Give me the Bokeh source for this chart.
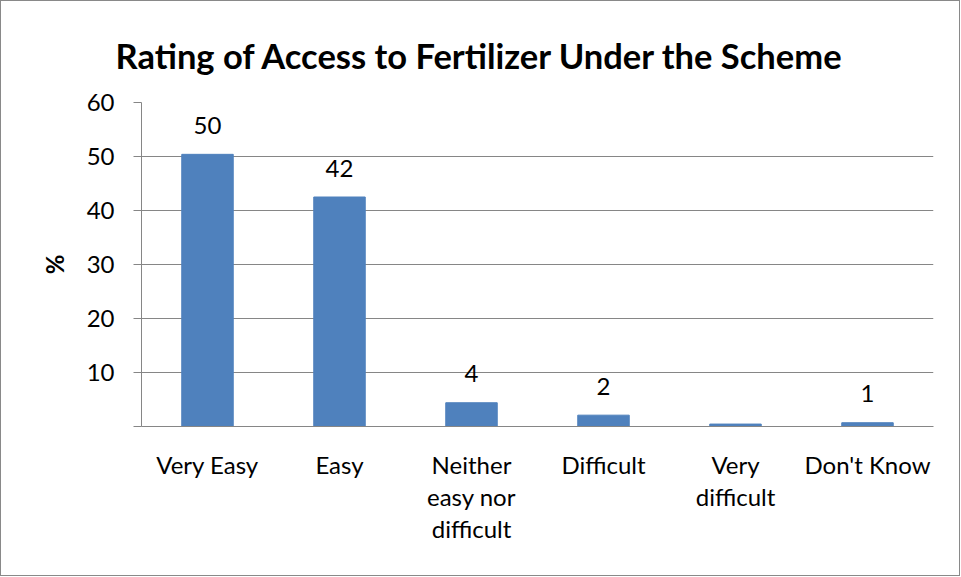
from bokeh.plotting import figure
from bokeh.models import ColumnDataSource, FixedTicker, Range1d, CategoricalAxis, FactorRange
from bokeh.embed import file_html
from bokeh.resources import INLINE
from bokeh.core.properties import value

categories = ["Very Easy", "Easy", "Neither easy nor difficult", "Difficult", "Very difficult", "Don't Know"]
display_names = ["Very Easy", "Easy", "Neither\neasy nor\ndifficult", "Difficult", "Very\ndifficult", "Don't Know"]
values = [50.4, 42.5, 4.4, 2.1, 0.45, 0.7]
value_labels = ["50", "42", "4", "2", "", "1"]
y_ticks = [0, 10, 20, 30, 40, 50, 60]
title_text = "Rating of Access to Fertilizer Under the Scheme"
y_label = "%"

FONT = "Lato"
GRAY = "#868686"
BLUE = "#4F81BD"

src = ColumnDataSource(dict(cat=categories, val=values, lab=value_labels))

p = figure(x_range=FactorRange(factors=categories), y_range=Range1d(0, 60), width=960, height=576,
           output_backend="svg", toolbar_location=None,
           min_border_left=140, min_border_right=28, min_border_top=101, min_border_bottom=151)

p.vbar(x="cat", top="val", width=0.39, source=src, fill_color=BLUE, line_color=BLUE)
p.text(x="cat", y="val", text="lab", source=src, text_align="center", text_baseline="alphabetic",
       y_offset=-29, text_font=value(FONT), text_font_size="24px", text_color="black")

# main x axis: line only
p.xaxis.axis_line_color = GRAY
p.xaxis.major_tick_line_color = None
p.xaxis.minor_tick_line_color = None
p.xaxis.major_tick_out = 0
p.xaxis.major_label_text_font_size = "0px"
p.xaxis.major_label_text_color = None
p.xaxis.major_label_standoff = 0

# multi-line category labels: one stacked categorical axis per text line,
# each on its own factor range holding that line of every category name
split_names = [name.split("\n") for name in display_names]
n_lines = max(len(s) for s in split_names)
for i in range(n_lines):
    line_factors = []
    for k, parts in enumerate(split_names):
        txt = parts[i] if i < len(parts) else " " * (k + 1)
        line_factors.append(txt)
    rname = f"line{i}"
    p.extra_x_ranges[rname] = FactorRange(factors=line_factors)
    ax = CategoricalAxis(x_range_name=rname)
    ax.axis_line_color = None
    ax.major_tick_line_color = None
    ax.minor_tick_line_color = None
    ax.major_tick_out = 0
    ax.major_label_text_font = FONT
    ax.major_label_text_font_size = "24px"
    ax.major_label_text_color = "black"
    ax.major_label_standoff = 23 if i == 0 else 0
    p.add_layout(ax, "below")

p.title.text = title_text
p.title.align = "left"
p.title.offset = -26
p.title.text_font = FONT
p.title.text_font_size = "34.5px"
p.title.text_font_style = "bold"
p.title.text_color = "black"
p.title.standoff = 54

p.outline_line_color = None
p.background_fill_color = "white"
p.border_fill_color = "white"
p.styles = {"border": "1px solid #898989"}

p.xgrid.grid_line_color = None
p.ygrid.grid_line_color = GRAY
p.ygrid.grid_line_width = 1

p.yaxis.ticker = FixedTicker(ticks=y_ticks)
p.yaxis.major_label_overrides = {0: ""}
p.yaxis.axis_line_color = GRAY
p.yaxis.major_tick_line_color = GRAY
p.yaxis.major_tick_out = 8
p.yaxis.major_tick_in = 0
p.yaxis.minor_tick_line_color = None
p.yaxis.major_label_text_font = FONT
p.yaxis.major_label_text_font_size = "24px"
p.yaxis.major_label_text_color = "black"
p.yaxis.major_label_standoff = 19
p.yaxis.axis_label = y_label
p.yaxis.axis_label_text_font = FONT
p.yaxis.axis_label_text_font_size = "24px"
p.yaxis.axis_label_text_font_style = "bold"
p.yaxis.axis_label_text_color = "black"
p.yaxis.axis_label_standoff = 15

open("out.html", "w").write(file_html(p, INLINE))
